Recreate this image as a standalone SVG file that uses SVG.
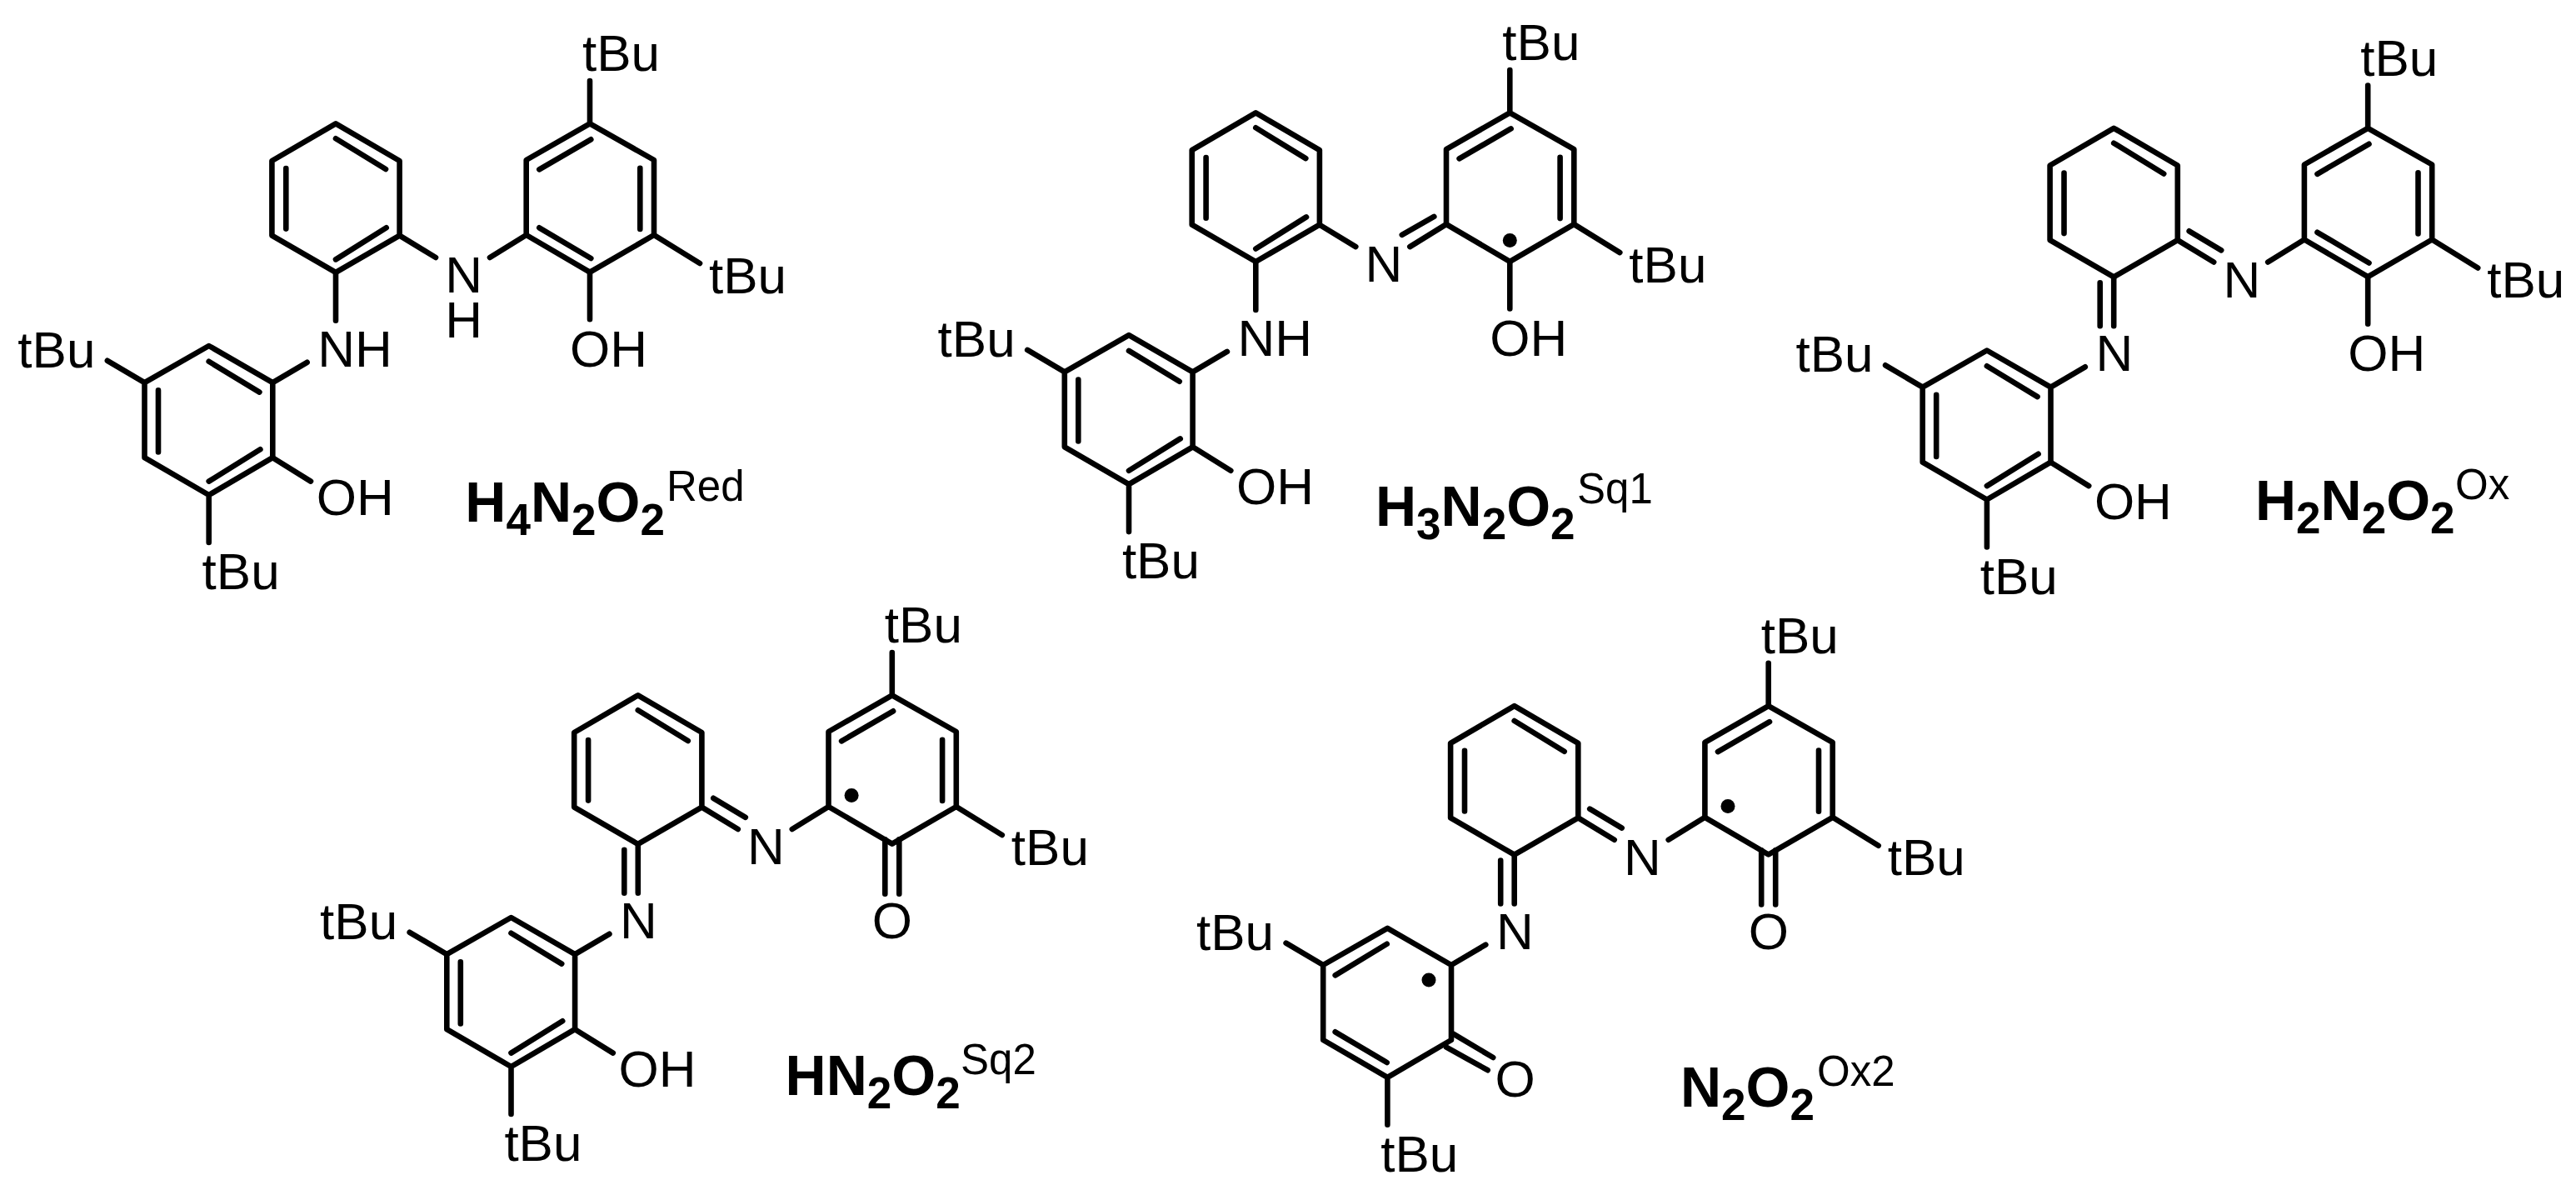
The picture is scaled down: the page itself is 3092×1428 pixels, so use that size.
<svg xmlns="http://www.w3.org/2000/svg" width="3092" height="1428" viewBox="0 0 3092 1428">
<style>
.b{fill:none;stroke:#000;stroke-width:6.6;stroke-linecap:round;stroke-linejoin:round}
text{font-family:"Liberation Sans",Arial,sans-serif;fill:#000}
.a{font-size:62px}
.t{font-size:68px;font-weight:bold}
.t tspan.s{font-size:53px}
.u{font-size:51px}
</style>
<defs>
<g id="skeleton"><path class="b" d="M403 148.3L326.4 193V282.6L403 326.9L479.6 282.6V193ZM708 148.3L631.7 192V282L708 326.7L785 282V192ZM250.7 415L173.5 459.2V549.2L250.7 594L327.3 549.2V459.2ZM708 148.3V97M785 282L840 316M631.7 282L588 309M479.6 282.6L523 309M327.3 459.2L368.6 434.8M173.5 459.2L128.9 432.8M250.7 594V651"/></g>
<path id="cAB" class="b" d="M403 166.2L463 203M343.3 202V274.6"/>
<path id="rAB" class="b" d="M709.3 167.3L647.3 203.3M768.3 201.7V275"/>
<path id="cC" class="b" d="M403 311.4L463.7 273.3"/>
<path id="rC" class="b" d="M647.3 273.3L709.3 310"/>
<path id="lABC" class="b" d="M250.7 433.8L311.4 470.6M190 468.4V542.4M250.7 577.6L312.4 539.3"/>
<path id="nn" class="b" d="M403 326.9V385.7M386.5 333.7V385.7M493.5 271.8L532 294.8"/>
<path id="co" class="b" d="M699.5 321.4V386.7M716.5 321.4V386.7"/>
</defs>
<g id="molecule-H4N2O2-Red">
<use href="#skeleton"/><use href="#cAB"/><use href="#cC"/><use href="#rAB"/><use href="#rC"/><use href="#lABC"/>
<path class="b" d="M403 326.9V384.8M708 326.7V383.3M327.3 549.2L373 577.6"/>
<text class="a" x="699" y="85">tBu</text>
<text class="a" x="851" y="351.7">tBu</text>
<text class="a" x="534.3" y="351.2">N</text>
<text class="a" x="534.3" y="405">H</text>
<text class="a" x="684" y="439.9">OH</text>
<text class="a" x="381.2" y="439.9">NH</text>
<text class="a" x="21.3" y="440.8">tBu</text>
<text class="a" x="379.7" y="617.5">OH</text>
<text class="a" x="242.6" y="707">tBu</text>
<text class="t" x="558.3" y="626">H<tspan class="s" dy="15.7">4</tspan><tspan dy="-15.7">N</tspan><tspan class="s" dy="15.7">2</tspan><tspan dy="-15.7">O</tspan><tspan class="s" dy="15.7">2</tspan></text>
<text class="u" x="800" y="600.7">Red</text>
</g>
<g id="molecule-H3N2O2-Sq1">
<g transform="translate(1104.3 -12.9)">
<use href="#skeleton"/><use href="#cAB"/><use href="#cC"/><use href="#rAB"/><use href="#lABC"/>
<path class="b" d="M403 326.9V384.8M708 326.7V383.3M327.3 549.2L373 577.6M617 272.8L578.5 294.8"/>
<circle cx="708" cy="301.5" r="8.5"/>
<text class="a" x="699" y="85">tBu</text>
<text class="a" x="851" y="351.7">tBu</text>
<text class="a" x="534.3" y="351.2">N</text>
<text class="a" x="684" y="439.9">OH</text>
<text class="a" x="381.2" y="439.9">NH</text>
<text class="a" x="21.3" y="440.8">tBu</text>
<text class="a" x="379.7" y="617.5">OH</text>
<text class="a" x="242.6" y="707">tBu</text>
</g>
<text class="t" x="1651" y="631.3">H<tspan class="s" dy="15.7">3</tspan><tspan dy="-15.7">N</tspan><tspan class="s" dy="15.7">2</tspan><tspan dy="-15.7">O</tspan><tspan class="s" dy="15.7">2</tspan></text>
<text class="u" x="1893" y="603.8">Sq1</text>
</g>
<g id="molecule-H2N2O2-Ox">
<g transform="translate(2134.2 5.5)">
<use href="#skeleton"/><use href="#cAB"/><use href="#nn"/><use href="#rAB"/><use href="#rC"/><use href="#lABC"/>
<path class="b" d="M708 326.7V383.3M327.3 549.2L373 577.6"/>
<text class="a" x="699" y="85">tBu</text>
<text class="a" x="851" y="351.7">tBu</text>
<text class="a" x="534.3" y="351.2">N</text>
<text class="a" x="684" y="439.9">OH</text>
<text class="a" x="381.2" y="439.9">N</text>
<text class="a" x="21.3" y="440.8">tBu</text>
<text class="a" x="379.7" y="617.5">OH</text>
<text class="a" x="242.6" y="707">tBu</text>
</g>
<text class="t" x="2707" y="624.4">H<tspan class="s" dy="15.7">2</tspan><tspan dy="-15.7">N</tspan><tspan class="s" dy="15.7">2</tspan><tspan dy="-15.7">O</tspan><tspan class="s" dy="15.7">2</tspan></text>
<text class="u" x="2947" y="599.2">Ox</text>
</g>
<g id="molecule-HN2O2-Sq2">
<g transform="translate(362.8 686)">
<use href="#skeleton"/><use href="#cAB"/><use href="#nn"/><use href="#rAB"/><use href="#co"/><use href="#lABC"/>
<path class="b" d="M327.3 549.2L373 577.6"/>
<circle cx="659.3" cy="268.6" r="8.5"/>
<text class="a" x="699" y="85">tBu</text>
<text class="a" x="851" y="351.7">tBu</text>
<text class="a" x="534.3" y="351.2">N</text>
<text class="a" x="684" y="439.9">O</text>
<text class="a" x="381.2" y="439.9">N</text>
<text class="a" x="21.3" y="440.8">tBu</text>
<text class="a" x="379.7" y="617.5">OH</text>
<text class="a" x="242.6" y="707">tBu</text>
</g>
<text class="t" x="942.6" y="1314">HN<tspan class="s" dy="15.7">2</tspan><tspan dy="-15.7">O</tspan><tspan class="s" dy="15.7">2</tspan></text>
<text class="u" x="1153" y="1288.8">Sq2</text>
</g>
<g id="molecule-N2O2-Ox2">
<g transform="translate(1414.7 698.8)">
<use href="#skeleton"/><use href="#cAB"/><use href="#nn"/><use href="#rAB"/><use href="#co"/>
<path class="b" d="M250 433.9L188 471.6M188 539.5L250 576.2M329.7 541.8L377.5 570.2M321.4 557.9L371 585.4"/>
<circle cx="659.3" cy="268.6" r="8.5"/>
<circle cx="300.3" cy="477.1" r="8.5"/>
<text class="a" x="699" y="85">tBu</text>
<text class="a" x="851" y="351.7">tBu</text>
<text class="a" x="534.3" y="351.2">N</text>
<text class="a" x="684" y="439.9">O</text>
<text class="a" x="381.2" y="439.9">N</text>
<text class="a" x="21.3" y="440.8">tBu</text>
<text class="a" x="379.7" y="617.5">O</text>
<text class="a" x="242.6" y="707">tBu</text>
</g>
<text class="t" x="2017" y="1327.8">N<tspan class="s" dy="15.7">2</tspan><tspan dy="-15.7">O</tspan><tspan class="s" dy="15.7">2</tspan></text>
<text class="u" x="2181" y="1302.6">Ox2</text>
</g>
</svg>
